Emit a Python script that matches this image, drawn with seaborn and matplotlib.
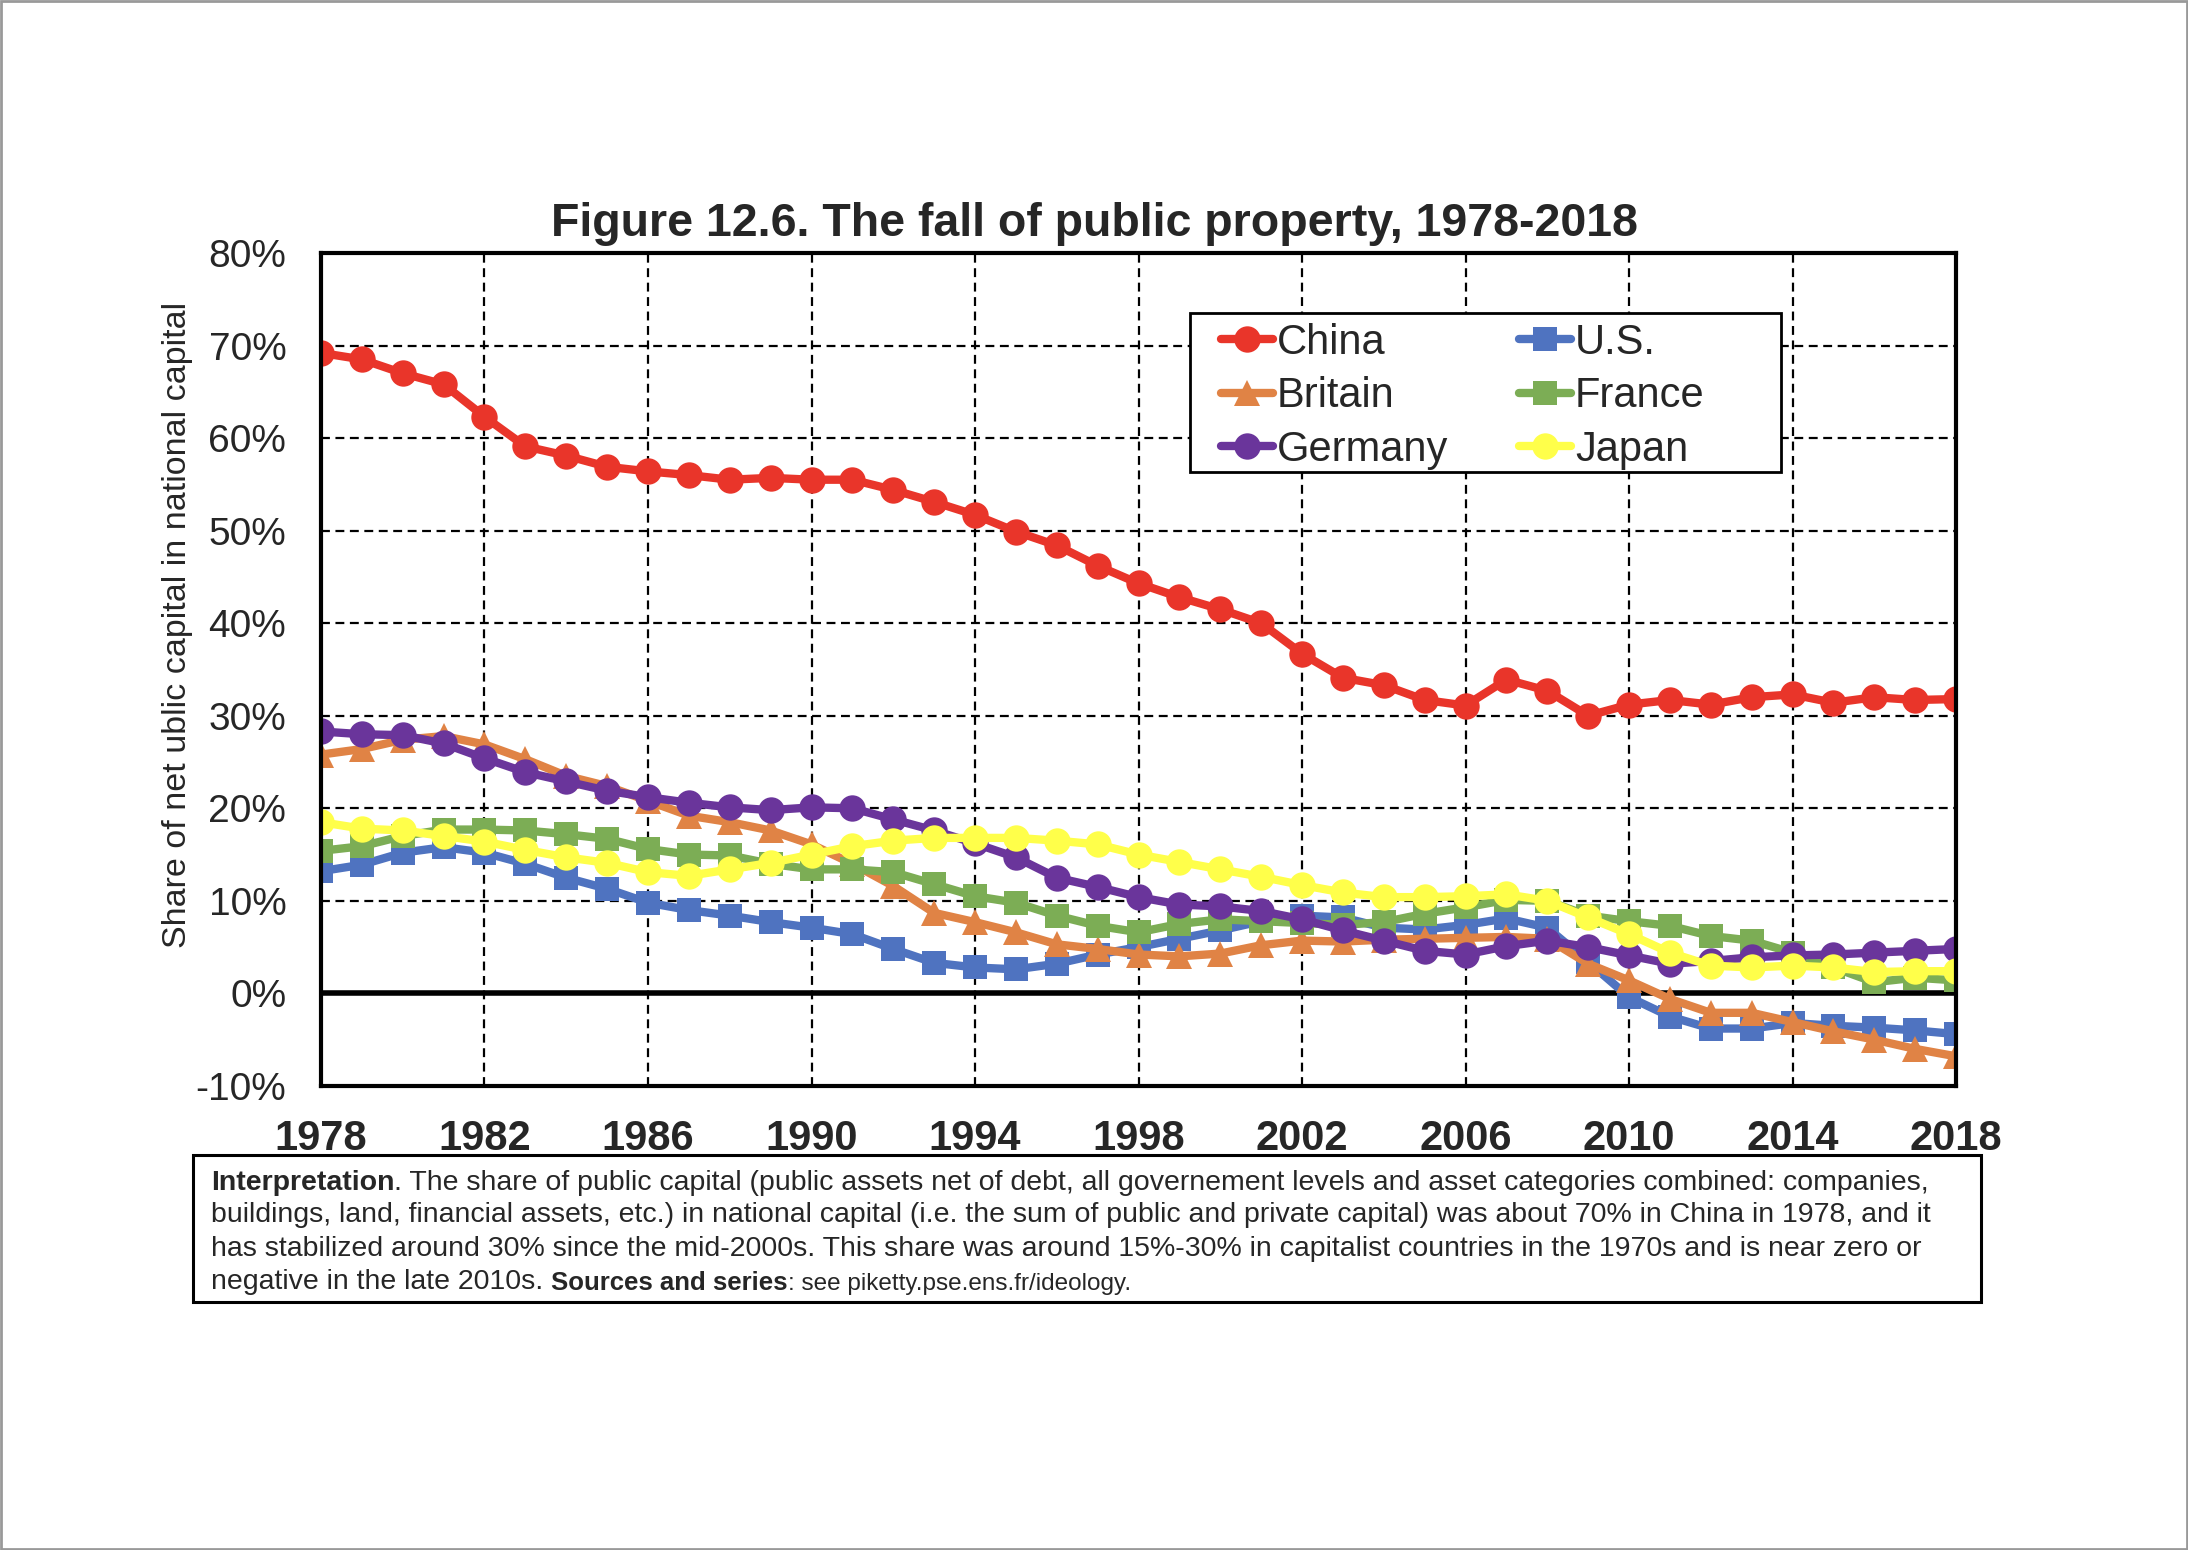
import numpy as np
import pandas as pd
import matplotlib
matplotlib.use("Agg")
import matplotlib.pyplot as plt
from matplotlib.patches import Rectangle
from matplotlib.ticker import FuncFormatter
import seaborn as sns

# Share of net public capital in national capital (%), 1978-2018
years = list(range(1978, 2019))

china = [69.2, 68.5, 67.0, 65.8, 62.3, 59.1, 58.1, 56.9, 56.4, 56.0,
         55.5, 55.7, 55.5, 55.5, 54.4, 53.1, 51.7, 49.9, 48.4, 46.2,
         44.3, 42.8, 41.5, 40.0, 36.7, 34.1, 33.3, 31.7, 31.1, 33.9,
         32.7, 30.0, 31.2, 31.7, 31.2, 32.0, 32.3, 31.4, 32.0, 31.7, 31.8]
us = [13.2, 13.9, 15.2, 15.8, 15.2, 14.0, 12.5, 11.3, 9.8, 9.0,
      8.4, 7.7, 7.1, 6.4, 4.8, 3.3, 2.8, 2.6, 3.2, 4.2,
      5.0, 5.9, 6.8, 7.8, 8.4, 8.2, 7.1, 6.9, 7.4, 8.1,
      7.1, 3.4, -0.4, -2.5, -3.8, -3.8, -3.2, -3.5, -3.7, -4.0, -4.4]
britain = [25.8, 26.4, 27.4, 27.8, 26.9, 25.3, 23.5, 22.4, 20.8, 19.2,
           18.5, 17.6, 16.1, 14.0, 11.6, 8.7, 7.7, 6.6, 5.3, 4.8,
           4.2, 4.0, 4.3, 5.2, 5.7, 5.6, 5.8, 5.9, 6.0, 6.1,
           5.9, 3.2, 1.4, -0.6, -2.1, -2.1, -3.1, -4.1, -5.0, -6.0, -6.8]
france = [15.4, 15.9, 17.0, 17.7, 17.7, 17.6, 17.2, 16.7, 15.6, 15.0,
          14.9, 14.0, 13.4, 13.4, 13.1, 11.8, 10.5, 9.8, 8.4, 7.3,
          6.6, 7.5, 8.0, 7.8, 7.6, 7.4, 7.7, 8.6, 9.3, 10.1,
          10.0, 8.4, 7.8, 7.3, 6.2, 5.7, 4.4, 2.8, 1.2, 1.7, 1.4]
germany = [28.3, 28.0, 27.9, 27.0, 25.4, 23.9, 22.9, 21.9, 21.2, 20.6,
           20.1, 19.8, 20.1, 20.0, 18.8, 17.6, 16.2, 14.7, 12.5, 11.5,
           10.4, 9.6, 9.4, 8.9, 8.0, 6.8, 5.7, 4.6, 4.2, 5.1,
           5.7, 5.0, 4.1, 3.2, 3.5, 3.9, 4.1, 4.2, 4.4, 4.6, 4.8]
japan = [18.5, 17.8, 17.6, 17.0, 16.4, 15.5, 14.7, 14.1, 13.1, 12.7,
         13.4, 14.1, 15.0, 15.9, 16.5, 16.8, 16.8, 16.8, 16.5, 16.1,
         15.0, 14.2, 13.4, 12.6, 11.7, 10.9, 10.4, 10.4, 10.5, 10.7,
         10.0, 8.2, 6.4, 4.4, 3.0, 2.8, 3.0, 2.8, 2.3, 2.4, 2.4]

countries = ["China", "U.S.", "Britain", "France", "Germany", "Japan"]
values = [china, us, britain, france, germany, japan]
colors = ["#E9352A", "#4F73C0", "#E08345", "#7CAD55", "#6A359B", "#FFFF4A"]
markers = ["o", "s", "^", "s", "o", "o"]
msizes = [19, 17, 19, 17, 19, 19]

x_ticks = list(range(1978, 2019, 4))
y_ticks = list(range(-10, 81, 10))

sns.set_style("white")
plt.rcParams["font.family"] = ["Liberation Sans", "DejaVu Sans"]

fig = plt.figure(figsize=(21.88, 15.5), dpi=100)
ax = fig.add_axes([0.1467, 0.2994, 0.7473, 0.5374])

for name, vals, c, m, ms in zip(countries, values, colors, markers, msizes):
    sns.lineplot(x=years, y=vals, ax=ax, color=c, marker=m, markersize=ms,
                 markeredgewidth=0, linewidth=6, label=name)

ax.set_xlim(1978, 2018)
ax.set_ylim(-10, 80)
ax.set_xticks(x_ticks)
ax.set_yticks(y_ticks)
ax.yaxis.set_major_formatter(FuncFormatter(lambda v, p: f"{int(round(v))}%"))
ax.grid(True, color="black", linestyle=(0, (4, 2.5)), linewidth=1.6)
ax.set_axisbelow(True)
ax.axhline(0, color="black", linewidth=4, zorder=1.5)

for s in ax.spines.values():
    s.set_color("black")
    s.set_linewidth(3)

ax.tick_params(axis="y", length=6, width=1, color="#555555", pad=19, labelsize=28)
ax.tick_params(axis="x", length=0, pad=24, labelsize=30)
for lbl in ax.get_xticklabels():
    lbl.set_fontweight("bold")

ax.set_xlabel("")
ax.set_ylabel("Share of net ublic capital in national capital", fontsize=24.5)
ax.yaxis.set_label_coords(-0.078, 0.553)

# title is centred on the whole figure, not on the axes
fig.text(0.5, 1 - 224 / 1550, "Figure 12.6. The fall of public property, 1978-2018",
         fontsize=33.5, fontweight="bold", ha="center", va="center")

# legend frame drawn separately so its padding can match the original
ax.add_patch(Rectangle((0.5315, 0.737), 0.3615, 0.191, transform=ax.transAxes,
                       facecolor="white", edgecolor="black", linewidth=2, zorder=2.5))
h, l = ax.get_legend_handles_labels()
order = [0, 2, 4, 1, 3, 5]  # row by row: China, U.S. / Britain, France / Germany, Japan
leg = ax.legend([h[i] for i in order], [l[i] for i in order], ncol=2,
                loc="center left", bbox_to_anchor=(0.5505, 0.828),
                fontsize=30, frameon=False, handlelength=1.24, handletextpad=0.1,
                columnspacing=1.7, labelspacing=0.32, borderpad=0, borderaxespad=0)
leg.set_zorder(3)

# caption box
fig.patches.append(Rectangle((0.0882, 0.160), 0.8172, 0.0948, transform=fig.transFigure,
                             fill=False, edgecolor="black", linewidth=2.2))
cx = 0.0964
fs = 20.5
line_y = [1 - 1183 / 1550, 1 - 1215 / 1550, 1 - 1249 / 1550, 1 - 1282 / 1550]

t = fig.text(cx, line_y[0], "Interpretation", fontsize=fs, fontweight="bold", va="center")
ax.annotate(". The share of public capital (public assets net of debt, all governement levels "
            "and asset categories combined: companies,",
            xy=(1, 0), xycoords=t, va="bottom", ha="left", fontsize=fs,
            annotation_clip=False)
fig.text(cx, line_y[1], "buildings, land, financial assets, etc.) in national capital (i.e. the sum "
         "of public and private capital) was about 70% in China in 1978, and it",
         fontsize=fs, va="center")
fig.text(cx, line_y[2], "has stabilized around 30% since the mid-2000s. This share was around "
         "15%-30% in capitalist countries in the 1970s and is near zero or",
         fontsize=fs, va="center")
t = fig.text(cx, line_y[3], "negative in the late 2010s. ", fontsize=fs, va="center")
t = ax.annotate("Sources and series", xy=(1, 0), xycoords=t, va="bottom", ha="left",
                fontsize=fs - 2, fontweight="bold", annotation_clip=False)
ax.annotate(": see piketty.pse.ens.fr/ideology.", xy=(1, 0), xycoords=t, va="bottom",
            ha="left", fontsize=fs - 3, annotation_clip=False)

# thin grey frame around the whole picture
fig.patches.append(Rectangle((0.0005, 0.0005), 0.999, 0.999, transform=fig.transFigure,
                             fill=False, edgecolor="#999999", linewidth=2))

fig.savefig("out.png", dpi=100)
